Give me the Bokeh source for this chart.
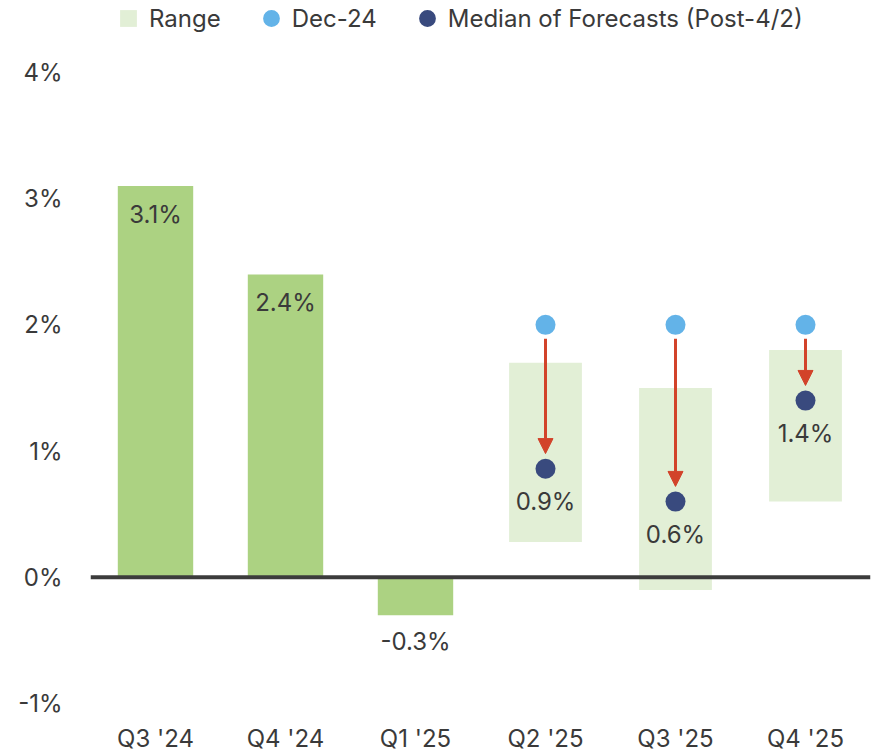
from bokeh.plotting import figure
from bokeh.models import (ColumnDataSource, FactorRange, Range1d, FixedTicker, CustomJSTickFormatter,
                          Span, LabelSet, Arrow, NormalHead, Legend, LegendItem)
from bokeh.core.properties import value
from bokeh.embed import file_html
from bokeh.resources import INLINE

# ---- data ----
quarters = ["Q3 '24", "Q4 '24", "Q1 '25", "Q2 '25", "Q3 '25", "Q4 '25"]
actual_q = ["Q3 '24", "Q4 '24", "Q1 '25"]
actual_vals = [3.1, 2.4, -0.3]
fc_q = ["Q2 '25", "Q3 '25", "Q4 '25"]
range_low = [0.28, -0.10, 0.60]
range_high = [1.70, 1.50, 1.80]
dec24 = [2.0, 2.0, 2.0]
median = [0.86, 0.60, 1.40]
y_ticks = [-1, 0, 1, 2, 3, 4]

FONT = "Inter"
FS = "24px"
TXT = "#3a3a3a"
GREEN = "#acd282"
LIGHT = "#e2efd6"
BLUE = "#63b3e8"
NAVY = "#394a7e"
RED = "#d2432a"

# upper range leaves room for the legend above the 4% tick
p = figure(width=880, height=756, x_range=FactorRange(*quarters, range_padding=0),
           y_range=Range1d(-1, 4.57), output_backend="svg", toolbar_location=None,
           min_border_left=90, min_border_right=10, min_border_top=0, min_border_bottom=53)
p.outline_line_color = None
p.xgrid.visible = False
p.ygrid.visible = False

act = ColumnDataSource(dict(x=actual_q, top=actual_vals))
fc = ColumnDataSource(dict(x=fc_q, lo=range_low, hi=range_high, dec=dec24, med=median,
                           lab=[f"{v:.1f}%" for v in median],
                           a0=[d - 0.11 for d in dec24], a1=[m + 0.12 for m in median]))

r_range = p.vbar(x="x", bottom="lo", top="hi", width=0.56, source=fc, fill_color=LIGHT, line_color=None)
p.vbar(x="x", bottom=0, top="top", width=0.58, source=act, fill_color=GREEN, line_color=None)
p.add_layout(Span(location=0, dimension="width", line_color="#3c3c3c", line_width=4))

head = NormalHead(size=15, fill_color=RED, line_color=RED, line_width=1)
p.add_layout(Arrow(end=head, x_start="x", y_start="a0", x_end="x", y_end="a1", source=fc,
                   line_color=RED, line_width=3))

r_dec = p.scatter(x="x", y="dec", size=20, source=fc, fill_color=BLUE, line_color=None)
r_med = p.scatter(x="x", y="med", size=20, source=fc, fill_color=NAVY, line_color=None)

# legend-only swatch for the range (not drawn in the plot: y is NaN)
r_sq = p.scatter(x=[fc_q[0]], y=[float("nan")], marker="square", size=14,
                 fill_color=LIGHT, line_color=None)

# labels
pos = ColumnDataSource(dict(x=[q for q, v in zip(actual_q, actual_vals) if v > 0],
                            y=[v for v in actual_vals if v > 0],
                            lab=[f"{v:.1f}%" for v in actual_vals if v > 0]))
neg = ColumnDataSource(dict(x=[q for q, v in zip(actual_q, actual_vals) if v < 0],
                            y=[v for v in actual_vals if v < 0],
                            lab=[f"{v:.1f}%" for v in actual_vals if v < 0]))
for src, off in ((pos, -14), (neg, -12)):
    p.add_layout(LabelSet(x="x", y="y", text="lab", source=src, y_offset=off,
                          text_align="center", text_baseline="top", text_font=value(FONT),
                          text_font_size=FS, text_color=TXT))
p.add_layout(LabelSet(x="x", y="med", text="lab", source=fc, y_offset=-18,
                      text_align="center", text_baseline="top", text_font=value(FONT),
                      text_font_size=FS, text_color=TXT))

# axes
p.yaxis.ticker = FixedTicker(ticks=y_ticks)
p.yaxis.formatter = CustomJSTickFormatter(code="return tick.toFixed(0) + '%';")
for ax in (p.xaxis[0], p.yaxis[0]):
    ax.axis_line_color = None
    ax.major_tick_line_color = None
    ax.minor_tick_line_color = None
    ax.major_tick_out = 0
    ax.major_tick_in = 0
    ax.minor_tick_out = 0
    ax.major_label_text_font = FONT
    ax.major_label_text_font_size = FS
    ax.major_label_text_color = TXT
p.yaxis.major_label_standoff = 28
p.xaxis.major_label_standoff = 20

legend = Legend(items=[LegendItem(label="Range", renderers=[r_sq]),
                       LegendItem(label="Dec-24", renderers=[r_dec]),
                       LegendItem(label="Median of Forecasts (Post-4/2)", renderers=[r_med])],
                orientation="horizontal", location=(17, 664),
                border_line_color=None, background_fill_alpha=0,
                glyph_width=42, glyph_height=42, label_standoff=-5, spacing=29,
                padding=0, margin=0, label_text_font=FONT, label_text_font_size=FS,
                label_text_color=TXT)
p.add_layout(legend)

open("out.html", "w").write(file_html(p, INLINE))
